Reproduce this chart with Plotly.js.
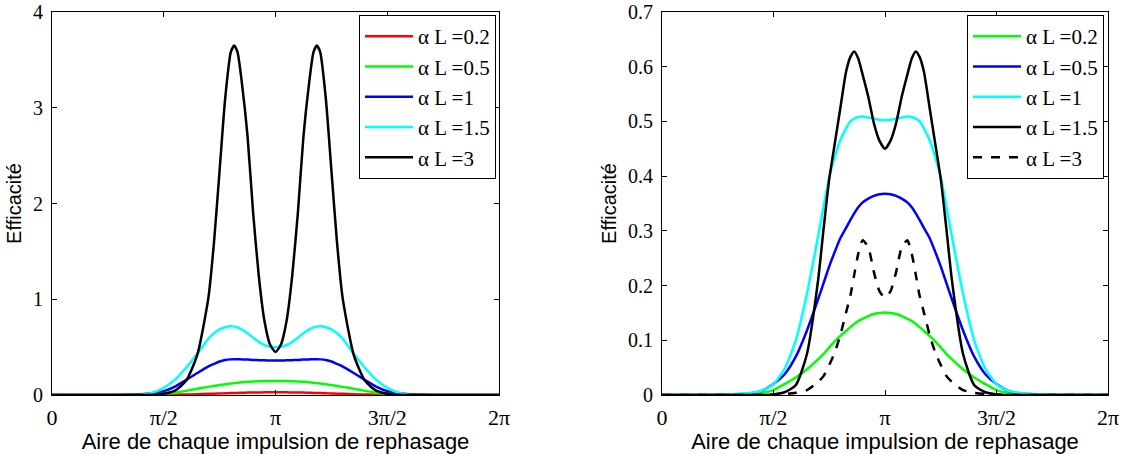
<!DOCTYPE html>
<html>
<head>
<meta charset="utf-8">
<script src="https://cdn.plot.ly/plotly-3.0.1.min.js"></script>
<style>html,body{margin:0;padding:0;background:#fff;}#chart{width:1134px;height:454px;}</style>
</head>
<body>
<div id="chart"></div>
<script>
// Pulse area in units of pi
const areaLeft = [0,0.1,0.2,0.3,0.4,0.45,0.5,0.55,0.6,0.65,0.7,0.725,0.75,0.775,0.8,0.815,0.83,0.85,0.875,0.9,0.925,0.95,0.975,1.0,
  1.025,1.05,1.075,1.1,1.125,1.15,1.17,1.185,1.2,1.225,1.25,1.275,1.3,1.35,1.4,1.45,1.5,1.55,1.6,1.7,1.8,1.9,2.0];
const leftAL02 = [0,0,0,0,0,0.0005,0.001,0.003,0.005,0.008,0.012,0.014,0.016,0.018,0.02,0.021,0.022,0.023,0.025,0.026,0.027,0.0275,0.028,0.028,
  0.028,0.0275,0.027,0.026,0.025,0.023,0.022,0.021,0.02,0.018,0.016,0.014,0.012,0.008,0.005,0.003,0.001,0.0005,0,0,0,0,0];
const leftAL05 = [0,0,0,0,0.001,0.004,0.01,0.024,0.043,0.065,0.085,0.095,0.104,0.112,0.12,0.124,0.128,0.133,0.138,0.141,0.144,0.145,0.146,0.146,
  0.146,0.145,0.144,0.141,0.138,0.133,0.128,0.124,0.12,0.112,0.104,0.095,0.085,0.065,0.043,0.024,0.01,0.004,0.001,0,0,0,0];
const leftAL1 = [0,0,0,0.001,0.008,0.02,0.04,0.088,0.157,0.23,0.3,0.325,0.35,0.365,0.372,0.374,0.374,0.372,0.37,0.366,0.364,0.362,0.361,0.36,
  0.361,0.362,0.364,0.366,0.37,0.372,0.374,0.374,0.372,0.365,0.35,0.325,0.3,0.23,0.157,0.088,0.04,0.02,0.008,0.001,0,0,0];
const leftAL15 = [0,0,0,0,0.004,0.025,0.075,0.16,0.285,0.43,0.59,0.645,0.685,0.708,0.717,0.714,0.705,0.683,0.645,0.598,0.555,0.522,0.505,0.5,
  0.505,0.522,0.555,0.598,0.645,0.683,0.705,0.714,0.717,0.708,0.685,0.645,0.59,0.43,0.285,0.16,0.075,0.025,0.004,0,0,0,0];
const leftAL3 = [0,0,0,0,0,0.003,0.012,0.045,0.15,0.42,1.02,1.6,2.35,3.1,3.58,3.65,3.58,3.25,2.7,1.9,1.25,0.78,0.53,0.45,
  0.53,0.78,1.25,1.9,2.7,3.25,3.58,3.65,3.58,3.1,2.35,1.6,1.02,0.42,0.15,0.045,0.012,0.003,0,0,0,0,0];

const areaRight = [0,0.1,0.2,0.3,0.4,0.45,0.5,0.55,0.6,0.65,0.7,0.725,0.75,0.775,0.8,0.825,0.845,0.862,0.88,0.9,0.925,0.95,0.975,1.0,
  1.025,1.05,1.075,1.1,1.12,1.138,1.155,1.175,1.2,1.225,1.25,1.275,1.3,1.35,1.4,1.45,1.5,1.55,1.6,1.7,1.8,1.9,2.0];
const rightAL02 = [0,0,0,0.0003,0.002,0.004,0.009,0.02,0.032,0.047,0.065,0.075,0.087,0.098,0.108,0.117,0.124,0.13,0.135,0.139,0.144,0.148,0.15,0.151,
  0.15,0.148,0.144,0.139,0.135,0.13,0.124,0.117,0.108,0.098,0.087,0.075,0.065,0.047,0.032,0.02,0.009,0.004,0.002,0.0003,0,0,0];
const rightAL05 = [0,0,0,0.0005,0.003,0.008,0.02,0.038,0.07,0.118,0.175,0.205,0.235,0.262,0.287,0.305,0.32,0.332,0.343,0.352,0.359,0.364,0.367,0.368,
  0.367,0.364,0.359,0.352,0.343,0.332,0.32,0.305,0.287,0.262,0.235,0.205,0.175,0.118,0.07,0.038,0.02,0.008,0.003,0.0005,0,0,0];
const rightAL1 = [0,0,0,0.001,0.004,0.008,0.02,0.048,0.1,0.185,0.29,0.345,0.398,0.435,0.466,0.487,0.5,0.505,0.508,0.509,0.507,0.505,0.503,0.502,
  0.503,0.505,0.507,0.509,0.508,0.505,0.5,0.487,0.466,0.435,0.398,0.345,0.29,0.185,0.1,0.048,0.02,0.008,0.004,0.001,0,0,0];
const rightAL15 = [0,0,0,0,0,0,0.001,0.005,0.018,0.075,0.21,0.305,0.395,0.46,0.525,0.59,0.618,0.628,0.615,0.585,0.545,0.497,0.465,0.45,
  0.465,0.497,0.545,0.585,0.615,0.628,0.618,0.59,0.525,0.46,0.395,0.305,0.21,0.075,0.018,0.005,0.001,0,0,0,0,0,0];
const rightAL3 = [0,0,0,0,0,0,0.001,0.002,0.004,0.009,0.024,0.035,0.055,0.078,0.11,0.15,0.182,0.22,0.258,0.283,0.27,0.225,0.19,0.178,
  0.19,0.225,0.27,0.283,0.258,0.22,0.182,0.15,0.11,0.078,0.055,0.035,0.024,0.009,0.004,0.002,0.001,0,0,0,0,0,0];

const tickVals = [0, 0.5, 1, 1.5, 2];
const tickLabels = ['0', 'π/2', 'π', '3π/2', '2π'];
const leftNames = ['α L =0.2', 'α L =0.5', 'α L =1', 'α L =1.5', 'α L =3'];
const rightNames = ['α L =0.2', 'α L =0.5', 'α L =1', 'α L =1.5', 'α L =3'];

const PI = Math.PI;
const xl = areaLeft.map(t => t * PI);
const xr = areaRight.map(t => t * PI);

function tr(x, y, name, color, xa, ya, leg, dash, grp) {
  return {x: x, y: y, name: name, type: 'scatter', mode: 'lines', xaxis: xa, yaxis: ya,
    legend: leg, legendgroup: grp,
    line: {color: color, width: 2.5, dash: dash || 'solid', shape: 'spline', smoothing: 0.6}};
}
const data = [
  tr(xl, leftAL02, leftNames[0], '#ff0000', 'x', 'y', 'legend', null, 'a1'),
  tr(xl, leftAL05, leftNames[1], '#00ff00', 'x', 'y', 'legend', null, 'a2'),
  tr(xl, leftAL1, leftNames[2], '#0000ff', 'x', 'y', 'legend', null, 'a3'),
  tr(xl, leftAL15, leftNames[3], '#00ffff', 'x', 'y', 'legend', null, 'a4'),
  tr(xl, leftAL3, leftNames[4], '#000000', 'x', 'y', 'legend', null, 'a5'),
  tr(xr, rightAL02, rightNames[0], '#00ff00', 'x2', 'y2', 'legend2', null, 'b1'),
  tr(xr, rightAL05, rightNames[1], '#0000ff', 'x2', 'y2', 'legend2', null, 'b2'),
  tr(xr, rightAL1, rightNames[2], '#00ffff', 'x2', 'y2', 'legend2', null, 'b3'),
  tr(xr, rightAL15, rightNames[3], '#000000', 'x2', 'y2', 'legend2', null, 'b4'),
  tr(xr, rightAL3, rightNames[4], '#000000', 'x2', 'y2', 'legend2', 'dash', 'b5')
];

const W = 1134, H = 454;
const serif = 'Liberation Serif, Times New Roman, serif';
const sans = 'Liberation Sans, Arial, sans-serif';
const yDom = [1 - 395 / H, 1 - 12 / H];

function xaxis(dom, anchor) {
  return {domain: dom, anchor: anchor, range: [0, 2 * PI], tickvals: tickVals.map(v => v * PI), ticktext: tickLabels,
    ticks: 'inside', ticklen: 5, tickwidth: 1, tickcolor: '#000', showline: true, linecolor: '#000', linewidth: 1,
    mirror: 'ticks', showgrid: false, zeroline: false, tickfont: {family: serif, size: 22, color: '#000'},
    ticklabelstandoff: 3, ticklabeloverflow: 'allow',
    title: {text: 'Aire de chaque impulsion de rephasage', font: {family: sans, size: 22, color: '#000'}, standoff: 0}};
}
function yaxis(dom, anchor, range, dtick) {
  return {domain: dom, anchor: anchor, range: range, dtick: dtick, tick0: 0,
    ticks: 'inside', ticklen: 5, tickwidth: 1, tickcolor: '#000', showline: true, linecolor: '#000', linewidth: 1,
    mirror: 'ticks', showgrid: false, zeroline: false, tickfont: {family: serif, size: 20, color: '#000'},
    ticklabelstandoff: 4, ticklabeloverflow: 'allow',
    title: {text: 'Efficacité', font: {family: sans, size: 20, color: '#000'}, standoff: 6}};
}
function legend(xr) {
  return {x: xr / W, xanchor: 'right', y: 1 - 15 / H, yanchor: 'top', bgcolor: '#fff', bordercolor: '#000', borderwidth: 1,
    font: {family: serif, size: 21, color: '#000'}, tracegroupgap: 2, itemwidth: 48, traceorder: 'normal'};
}

const layout = {
  width: W, height: H, margin: {l: 0, r: 0, t: 0, b: 0}, paper_bgcolor: '#fff', plot_bgcolor: '#fff',
  showlegend: true,
  xaxis: xaxis([52 / W, 499 / W], 'y'),
  yaxis: yaxis(yDom, 'x', [0, 4], 1),
  xaxis2: xaxis([662 / W, 1108 / W], 'y2'),
  yaxis2: yaxis(yDom, 'x2', [0, 0.7], 0.1),
  legend: legend(496),
  legend2: legend(1104)
};
Plotly.newPlot('chart', data, layout, {staticPlot: true});
</script>
</body>
</html>
